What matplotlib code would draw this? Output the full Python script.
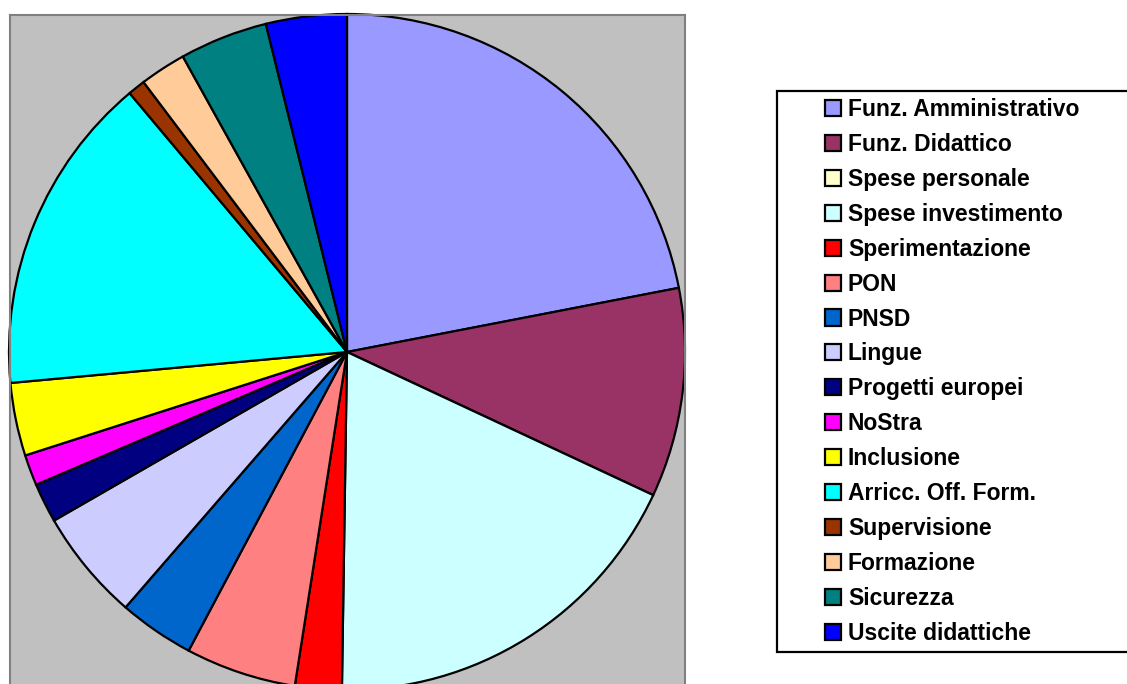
import matplotlib.pyplot as plt
from matplotlib.patches import Rectangle

# shares (percent of total)
categories = ['Funz. Amministrativo', 'Funz. Didattico', 'Spese personale',
              'Spese investimento', 'Sperimentazione', 'PON', 'PNSD', 'Lingue',
              'Progetti europei', 'NoStra', 'Inclusione', 'Arricc. Off. Form.',
              'Supervisione', 'Formazione', 'Sicurezza', 'Uscite didattiche']
shares = [21.96, 10.0, 0.0, 18.28, 2.23, 5.29, 3.61, 5.32,
          1.89, 1.47, 3.49, 15.34, 0.84, 2.21, 4.21, 3.86]
colors = ['#9999FF', '#993366', '#FFFFCC', '#CCFFFF', '#FF0000', '#FF8080',
          '#0066CC', '#CCCCFF', '#000080', '#FF00FF', '#FFFF00', '#00FFFF',
          '#993300', '#FFCC99', '#008080', '#0000FF']

W, H = 1127, 684
fig = plt.figure(figsize=(W / 100, H / 100), dpi=100)
plt.rcParams['font.family'] = ['Liberation Sans', 'DejaVu Sans']

# plot area: left 10px, top 15px, right 685px, runs off the bottom
ax = fig.add_axes([10 / W, 0, 675 / W, (H - 15) / H])
wedges, _ = ax.pie(shares, colors=colors, startangle=90, counterclock=False,
                   radius=1, frame=True,
                   wedgeprops=dict(edgecolor='black', linewidth=1.6))
ax.set_aspect('auto')
r = 338.0
ax.set_xlim(-337 / r, 338 / r)
ax.set_ylim(-332 / r, 337 / r)
ax.set_xticks([])
ax.set_yticks([])
ax.set_facecolor('#C0C0C0')
for s in ['left', 'right', 'top']:
    ax.spines[s].set_color('#808080')
    ax.spines[s].set_linewidth(1.5)
ax.spines['bottom'].set_visible(False)

# legend frame
fig.patches.append(Rectangle((777 / W, 1 - 652 / H), 400 / W, (652 - 91) / H,
                             transform=fig.transFigure, facecolor='white',
                             edgecolor='black', linewidth=1.6, zorder=1))

leg = fig.legend(wedges, categories, loc='upper left',
                 bbox_to_anchor=(825 / W, 1 - 98 / H), frameon=False,
                 borderpad=0, borderaxespad=0, handlelength=0.7,
                 handleheight=0.7, handletextpad=0.3, labelspacing=0.52,
                 prop=dict(family='Liberation Sans', weight='bold', size=16.5))
leg.set_zorder(2)

fig.savefig('out.png', dpi=100)
